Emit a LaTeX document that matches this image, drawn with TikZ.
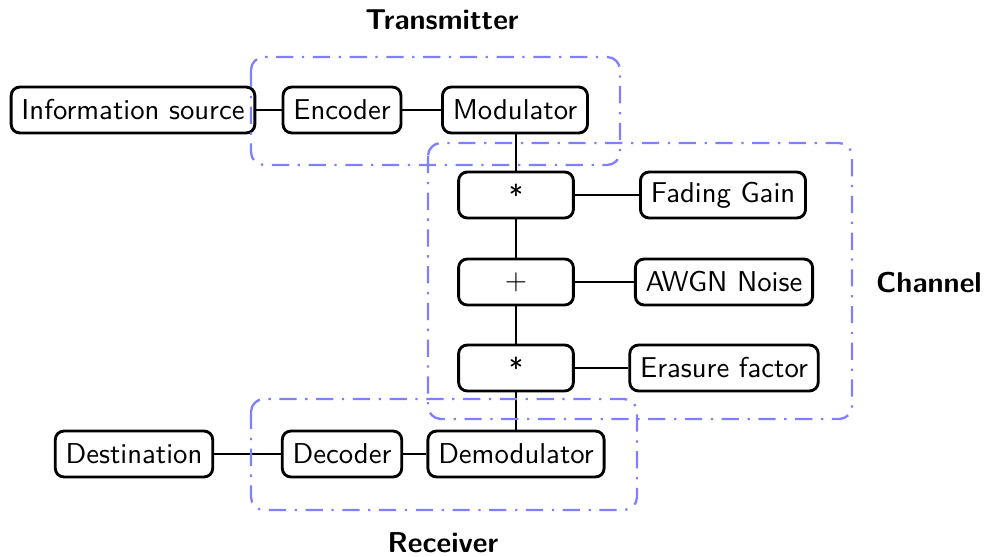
\documentclass[tikz,border=0pt]{standalone}
\begin{document}
\begin{tikzpicture}[x=0.3484pt,y=-0.3484pt, font=\sffamily,
  blk/.style={draw, line width=1pt, rounded corners=3pt, minimum height=16pt, inner xsep=3.6pt, inner ysep=2pt},
  op/.style={blk, minimum width=40pt},
  grp/.style={draw=blue!50, thick, rounded corners=4.5pt, dash pattern=on 6pt off 3pt on 0.8pt off 3pt},
  lbl/.style={font=\sffamily\bfseries},
  main/.style={line width=0.9pt}, side/.style={line width=0.45pt}]
\useasboundingbox (0,0) rectangle (984,556);
% transmitter
\node[blk] (src) at (133,110) {Information source};
\node[blk] (enc) at (342,110) {Encoder};
\node[blk] (mod) at (515,110) {Modulator};
% channel
\node[op] (m1) at (516,195) {*};
\node[op] (add) at (516,282) {$+$};
\node[op] (m2) at (516,368) {*};
\node[blk] (fad) at (723,195) {Fading Gain};
\node[blk] (awgn) at (724,282) {AWGN Noise};
\node[blk] (era) at (724,368) {Erasure factor};
% receiver
\node[blk] (dst) at (134,454) {Destination};
\node[blk] (dec) at (342,454) {Decoder};
\node[blk] (dem) at (516,454) {Demodulator};
% connectors
\draw[main] (src) -- (enc);
\draw[main] (enc) -- (mod);
\draw[main] (mod.south -| m1.north) -- (m1.north);
\draw[main] (m1) -- (add);
\draw[main] (add) -- (m2);
\draw[main] (m2.south) -- (m2.south |- dem.north);
\draw[main] (dec) -- (dem);
\draw[main] (dst) -- (dec);
\draw[side] (m1) -- (fad);
\draw[side] (add) -- (awgn);
\draw[side] (m2) -- (era);
% groups
\draw[grp] (251,57) rectangle (620,165);
\draw[grp] (428,143) rectangle (852,419);
\draw[grp] (251,399) rectangle (637,510);
\node[lbl] (tx) at (442,20) {Transmitter};
\node[lbl] (ch) at (929,283) {Channel};
\node[lbl] (rx) at (443,543) {Receiver};
\end{tikzpicture}
\end{document}
